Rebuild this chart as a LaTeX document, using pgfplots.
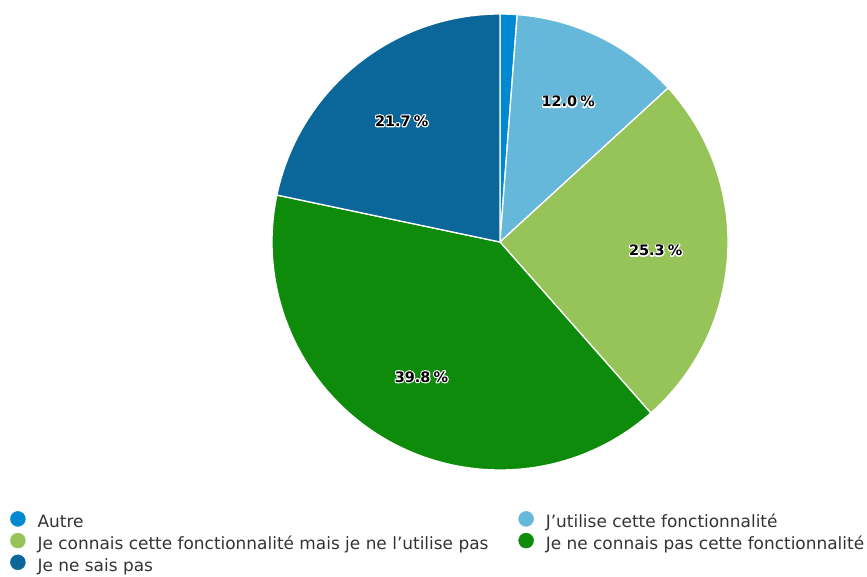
\documentclass[border=0pt]{standalone}
\usepackage{pgfplots}
\pgfplotsset{compat=1.18}
\usepackage{pgfplotstable}
\usepackage{fontspec}
\setmainfont{DejaVu Sans}

\definecolor{cAutre}{RGB}{0,137,209}
\definecolor{cUtil}{RGB}{102,184,218}
\definecolor{cConn}{RGB}{150,196,88}
\definecolor{cNonConn}{RGB}{14,139,10}
\definecolor{cNSP}{RGB}{11,103,153}
\definecolor{legtext}{RGB}{51,51,51}

\newcommand\outlined[1]{\rlap{\special{pdf:literal direct 1 Tr 2.4 w 1 J 1 j 1 1 1 RG}#1\special{pdf:literal direct 0 Tr 0.4 w 0 J 0 j 0 0 0 RG}}#1}

\pgfplotstableread{
value color
1.2 cAutre
12.0 cUtil
25.3 cConn
39.8 cNonConn
21.7 cNSP
}\piedata

\begin{document}
\begin{tikzpicture}
\begin{axis}[
  width=867bp, height=577bp, scale only axis,
  xmin=0, xmax=867, ymin=0, ymax=577,
  hide axis, clip=false,
  legend columns=2,
  legend cell align=left,
  legend image code/.code={\fill[#1] (7.5bp,5bp) circle (7.5bp);},
  legend style={
    at={(axis cs:10,577-511)}, anchor=north west,
    draw=none, fill=none,
    font=\fontsize{17}{19}\selectfont\color{legtext},
    inner sep=0pt, row sep=0.5bp,
    nodes={inner sep=0pt, text height=12.5bp, text depth=4.5bp},
    /tikz/every odd column/.append style={column sep=12bp},
    /tikz/every even column/.append style={column sep=30bp},
  },
]
\coordinate (bl) at (axis cs:0,0);
\coordinate (tr) at (axis cs:867,577);
\addlegendimage{cAutre}\addlegendentry{Autre}
\addlegendimage{cUtil}\addlegendentry{J’utilise cette fonctionnalité}
\addlegendimage{cConn}\addlegendentry{Je connais cette fonctionnalité mais je ne l’utilise pas}
\addlegendimage{cNonConn}\addlegendentry{Je ne connais pas cette fonctionnalité}
\addlegendimage{cNSP}\addlegendentry{Je ne sais pas}

\pgfplotstablegetrowsof{\piedata}
\pgfmathtruncatemacro\N{\pgfplotsretval-1}
\gdef\angA{90}
\pgfplotsforeachungrouped \i in {0,...,\N}{
  \pgfplotstablegetelem{\i}{value}\of\piedata \let\val\pgfplotsretval
  \pgfplotstablegetelem{\i}{color}\of\piedata \let\col\pgfplotsretval
  \pgfmathsetmacro\angB{\angA-3.6*\val}
  \pgfmathsetmacro\angM{(\angA+\angB)/2}
  \pgfmathsetmacro\lx{500+156*cos(\angM)}
  \pgfmathsetmacro\ly{335+156*sin(\angM)}
  \edef\temp{\noexpand\filldraw[fill=\col, draw=white, line width=1.3bp, line join=round]
    (axis cs:500,335) -- ([shift={(\angA:228bp)}]axis cs:500,335)
    arc[start angle=\angA, end angle=\angB, radius=228bp] -- cycle;}
  \temp
  \pgfmathparse{\val>5 ? 1 : 0}
  \ifnum\pgfmathresult=1
    \edef\temp{\noexpand\node[inner sep=0pt, font=\noexpand\fontsize{14.5}{17}\noexpand\selectfont\noexpand\bfseries]
      at (axis cs:\lx,\ly) {\noexpand\outlined{\val\noexpand\hspace{0.22em}\noexpand\%}};}
    \temp
  \fi
  \global\let\angA\angB
}
\end{axis}
\pgfresetboundingbox
\path[use as bounding box] (bl) rectangle (tr);
\end{tikzpicture}
\end{document}
